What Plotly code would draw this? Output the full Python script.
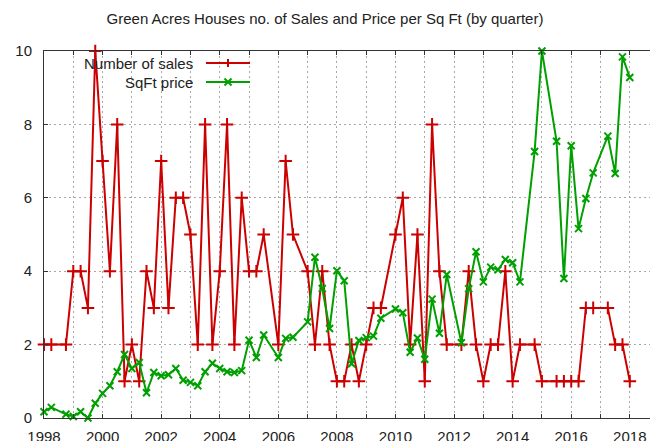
import plotly.graph_objects as go

# ---------------------------------------------------------------------------
# Data (quarters as decimal years; gaps are quarters with no data)
# ---------------------------------------------------------------------------
quarters = [
    1998.0, 1998.25, 1998.75,
    1999.0, 1999.25, 1999.5, 1999.75,
    2000.0, 2000.25, 2000.5, 2000.75,
    2001.0, 2001.25, 2001.5, 2001.75,
    2002.0, 2002.25, 2002.5, 2002.75,
    2003.0, 2003.25, 2003.5, 2003.75,
    2004.0, 2004.25, 2004.5, 2004.75,
    2005.0, 2005.25, 2005.5,
    2006.0, 2006.25, 2006.5,
    2007.0, 2007.25, 2007.5, 2007.75,
    2008.0, 2008.25, 2008.5, 2008.75,
    2009.0, 2009.25, 2009.5,
    2010.0, 2010.25, 2010.5, 2010.75,
    2011.0, 2011.25, 2011.5, 2011.75,
    2012.25, 2012.5, 2012.75,
    2013.0, 2013.25, 2013.5, 2013.75,
    2014.0, 2014.25, 2014.75,
    2015.0, 2015.5, 2015.75,
    2016.0, 2016.25, 2016.5, 2016.75,
    2017.25, 2017.5, 2017.75,
    2018.0,
]

num_sales = [
    2, 2, 2,
    4, 4, 3, 10,
    7, 4, 8, 1,
    2, 1, 4, 3,
    7, 3, 6, 6,
    5, 2, 8, 2,
    4, 8, 2, 6,
    4, 4, 5,
    2, 7, 5,
    4, 2, 4, 2,
    1, 1, 2, 1,
    2, 3, 3,
    5, 6, 2, 5,
    1, 8, 4, 2,
    2, 4, 2,
    1, 2, 2, 4,
    1, 2, 2,
    1, 1, 1,
    1, 1, 3, 3,
    3, 2, 2,
    1,
]

sqft_price = [
    0.17, 0.29, 0.10,
    0.04, 0.17, 0.0, 0.40,
    0.67, 0.88, 1.26, 1.73,
    1.35, 1.51, 0.69, 1.24,
    1.15, 1.18, 1.35, 1.03,
    0.97, 0.88, 1.26, 1.49,
    1.35, 1.26, 1.24, 1.29,
    2.12, 1.65, 2.26,
    1.65, 2.17, 2.20,
    2.62, 4.38, 3.53, 2.44,
    4.01, 3.74, 1.48, 2.11,
    2.19, 2.23, 2.72,
    2.97, 2.87, 1.79, 2.18,
    1.60, 3.24, 2.31, 3.91,
    2.05, 3.52, 4.53,
    3.71, 4.11, 4.04, 4.32,
    4.23, 3.71, 7.26,
    10.0, 7.54, 3.80,
    7.42, 5.16, 5.98, 6.68,
    7.68, 6.66, 9.84,
    9.28,
]

x_tick_years = list(range(1998, 2019))
x_tick_text = [str(y) if y % 2 == 0 else "" for y in x_tick_years]
y_tick_vals = [0, 2, 4, 6, 8, 10]

series_names = ["Number of sales", "SqFt price"]

# ---------------------------------------------------------------------------
# Styling
# ---------------------------------------------------------------------------
RED = "#cc0000"
GREEN = "#00a000"
AXIS = "#333333"
GRID = "#a8a8a8"
FONT = "Liberation Sans, Arial, sans-serif"

W, H = 650, 441
M_L, M_R, M_T, M_B = 44, 0, 51, 23


def paper_x(px):
    return (px - M_L) / (W - M_L - M_R)


def paper_y(py):
    return (H - M_B - py) / (H - M_T - M_B)


fig = go.Figure()

fig.add_trace(
    go.Scatter(
        x=quarters,
        y=num_sales,
        mode="lines+markers",
        name=series_names[0],
        line=dict(color=RED, width=2),
        marker=dict(symbol="cross-thin", size=9, line=dict(color=RED, width=2)),
        cliponaxis=False,
        showlegend=False,
    )
)
fig.add_trace(
    go.Scatter(
        x=quarters,
        y=sqft_price,
        mode="lines+markers",
        name=series_names[1],
        line=dict(color=GREEN, width=2),
        marker=dict(symbol="x-thin", size=7, line=dict(color=GREEN, width=2)),
        cliponaxis=False,
        showlegend=False,
    )
)

# gnuplot-style key: text right-aligned, sample line to its right
legend_rows = [(series_names[0], RED, "plus", 63), (series_names[1], GREEN, "x", 82)]
for text, color, glyph, py in legend_rows:
    fig.add_annotation(
        x=paper_x(195), y=paper_y(py), xref="paper", yref="paper",
        xanchor="right", yanchor="middle", text=text, showarrow=False,
        font=dict(family=FONT, size=15, color="#222222"),
    )
    fig.add_shape(
        type="line", xref="paper", yref="paper",
        x0=paper_x(206), x1=paper_x(250), y0=paper_y(py), y1=paper_y(py),
        line=dict(color=color, width=2),
    )
    cx, cy = paper_x(228), paper_y(py)
    if glyph == "plus":
        segs = [(-4, 0, 4, 0), (0, -4, 0, 4)]
    else:
        segs = [(-3.5, -3.5, 3.5, 3.5), (-3.5, 3.5, 3.5, -3.5)]
    for x0, y0, x1, y1 in segs:
        fig.add_shape(
            type="line", xref="paper", yref="paper",
            xsizemode="pixel", ysizemode="pixel", xanchor=cx, yanchor=cy,
            x0=x0, x1=x1, y0=y0, y1=y1,
            line=dict(color=color, width=2),
        )

fig.update_layout(
    width=W,
    height=H,
    margin=dict(l=M_L, r=M_R, t=M_T, b=M_B, pad=0),
    paper_bgcolor="white",
    plot_bgcolor="white",
    font=dict(family=FONT, size=15, color="#222222"),
    title=dict(
        text="Green Acres Houses no. of Sales and Price per Sq Ft (by quarter)",
        x=0.5, xanchor="center", xref="container",
        y=1 - 19 / H, yanchor="middle", yref="container",
        font=dict(family=FONT, size=15, color="#222222"),
    ),
    showlegend=False,
)

fig.update_xaxes(
    range=[1998, 1998 + (W - M_L) / 29.29],
    tickvals=x_tick_years,
    ticktext=x_tick_text,
    ticks="inside",
    ticklen=4,
    tickcolor=AXIS,
    showline=True,
    linecolor=AXIS,
    linewidth=1,
    mirror="ticks",
    showgrid=True,
    gridcolor=GRID,
    gridwidth=1,
    griddash="2px,3px",
    zeroline=False,
    automargin=False,
    ticklabelstandoff=5,
)
fig.update_yaxes(
    range=[0, 10],
    tickvals=y_tick_vals,
    ticks="inside",
    ticklen=4,
    tickcolor=AXIS,
    showline=True,
    linecolor=AXIS,
    linewidth=1,
    showgrid=True,
    gridcolor=GRID,
    gridwidth=1,
    griddash="2px,3px",
    zeroline=False,
    automargin=False,
    ticklabelstandoff=8,
)

# the page's default body margin would shift the figure by 8px
fig.write_html(
    "out.html",
    config={"displayModeBar": False},
    post_script="document.body.style.margin='0';",
)
